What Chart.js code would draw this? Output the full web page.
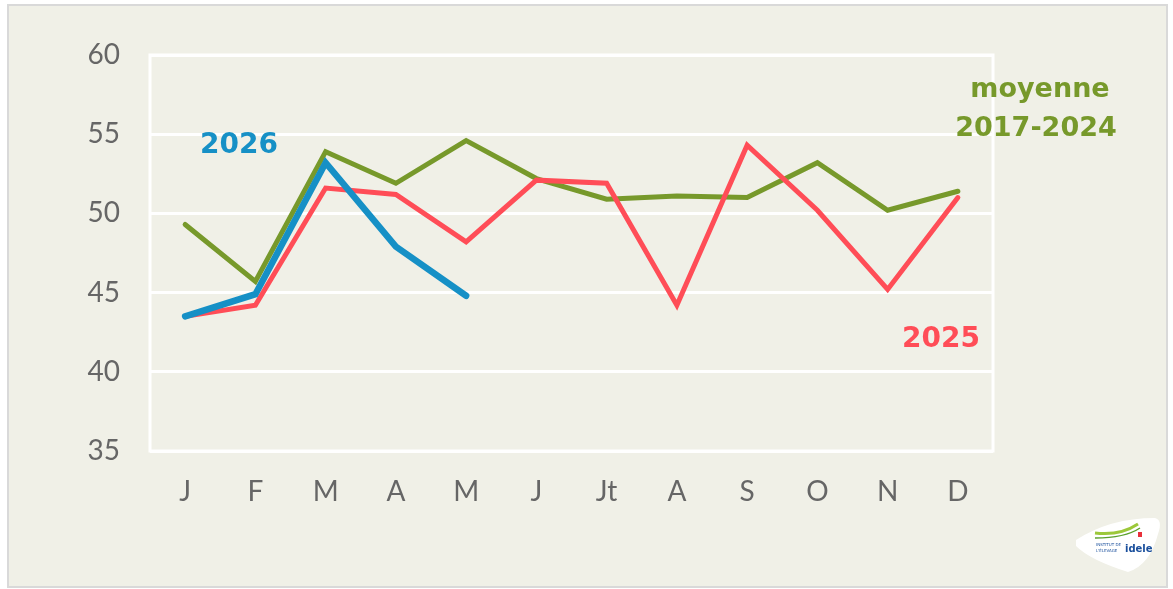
<!DOCTYPE html>
<html>
<head>
<meta charset="utf-8">
<script src="https://cdn.jsdelivr.net/npm/chart.js@4/dist/chart.umd.min.js"></script>
<style>
  html, body { margin: 0; padding: 0; background: #fff; }
  #frame {
    position: absolute; left: 7px; top: 4px; width: 1157px; height: 580px;
    background: #f0f0e7; border: 2px solid #d9d9d9;
  }
  #wrap { position: absolute; left: 0; top: 0; width: 1173px; height: 589px; }
</style>
</head>
<body>
<div id="frame"></div>
<div id="wrap"><canvas id="chart" width="1173" height="589"></canvas></div>
<script>
const months = ['J', 'F', 'M', 'A', 'M', 'J', 'Jt', 'A', 'S', 'O', 'N', 'D'];
const yTicks = [35, 40, 45, 50, 55, 60];

const avg2017_2024 = [49.3, 45.7, 53.9, 51.9, 54.6, 52.2, 50.9, 51.1, 51.0, 53.2, 50.2, 51.4];
const y2025 = [43.5, 44.2, 51.6, 51.2, 48.2, 52.1, 51.9, 44.2, 54.3, 50.2, 45.2, 51.0];
const y2026 = [43.5, 44.9, 53.2, 47.9, 44.8];

const GREEN = '#77992b';
const RED = '#ff4d57';
const BLUE = '#1690c6';

// white frame round the plot, labels, small logo
const decor = {
  id: 'decor',
  beforeDatasetsDraw(chart) {
    const { ctx, chartArea: a } = chart;
    ctx.save();
    ctx.strokeStyle = '#fff';
    ctx.lineWidth = 3;
    ctx.strokeRect(a.left, a.top, a.right - a.left, a.bottom - a.top);
    ctx.restore();
  },
  afterDraw(chart) {
    const { ctx } = chart;
    ctx.save();
    ctx.textAlign = 'center';
    ctx.textBaseline = 'middle';
    ctx.font = 'bold 28px "DejaVu Sans"';
    ctx.fillStyle = BLUE;
    ctx.fillText('2026', 239, 146);
    ctx.fillStyle = RED;
    ctx.fillText('2025', 941, 340);
    ctx.fillStyle = GREEN;
    ctx.font = 'bold 27px "DejaVu Sans"';
    ctx.fillText('moyenne', 1040, 90);
    ctx.fillText('2017-2024', 1036, 129);

    // idele logo (rough)
    ctx.fillStyle = '#fff';
    ctx.beginPath();
    ctx.moveTo(1076, 540);
    ctx.quadraticCurveTo(1110, 518, 1155, 518);
    ctx.quadraticCurveTo(1163, 520, 1158, 534);
    ctx.quadraticCurveTo(1150, 565, 1128, 572);
    ctx.quadraticCurveTo(1090, 560, 1076, 546);
    ctx.closePath();
    ctx.fill();
    ctx.strokeStyle = '#9cc83a';
    ctx.lineWidth = 3;
    ctx.beginPath();
    ctx.moveTo(1095, 533);
    ctx.quadraticCurveTo(1120, 536, 1138, 524);
    ctx.stroke();
    ctx.strokeStyle = '#5aa02c';
    ctx.lineWidth = 1.5;
    ctx.beginPath();
    ctx.moveTo(1095, 538);
    ctx.quadraticCurveTo(1125, 538, 1140, 528);
    ctx.stroke();
    ctx.fillStyle = '#e8303a';
    ctx.fillRect(1138, 532, 4, 5);
    ctx.fillStyle = '#1a4f9c';
    ctx.font = 'bold 10px "DejaVu Sans"';
    ctx.textAlign = 'left';
    ctx.fillText('idele', 1125, 549);
    ctx.font = '4px "DejaVu Sans"';
    ctx.fillText('INSTITUT DE', 1096, 545);
    ctx.fillText("L'ÉLEVAGE", 1096, 551);
    ctx.restore();
  }
};

new Chart(document.getElementById('chart'), {
  type: 'line',
  data: {
    labels: months,
    datasets: [
      { label: 'moyenne 2017-2024', data: avg2017_2024, borderColor: GREEN, borderWidth: 5, order: 3 },
      { label: '2025', data: y2025, borderColor: RED, borderWidth: 5, order: 2 },
      { label: '2026', data: y2026, borderColor: BLUE, borderWidth: 6.5, order: 1 }
    ]
  },
  options: {
    responsive: false,
    animation: false,
    elements: {
      point: { radius: 0 },
      line: { tension: 0, borderCapStyle: 'round', borderJoinStyle: 'miter', fill: false }
    },
    layout: { padding: { left: 0, top: 55, right: 180, bottom: 38 } },
    plugins: { legend: { display: false }, tooltip: { enabled: false } },
    scales: {
      x: {
        offset: true,
        grid: { display: false, drawTicks: false },
        border: { display: false },
        ticks: { color: '#666', padding: 24, font: { family: 'Lato', size: 28, weight: 'normal' } },
        afterFit: (s) => { s.height = 100; }
      },
      y: {
        min: 35, max: 60,
        afterBuildTicks: (s) => { s.ticks = yTicks.map(v => ({ value: v })); },
        grid: { color: '#fff', lineWidth: 3, drawTicks: false },
        border: { display: false },
        ticks: { color: '#666', padding: 30, font: { family: 'Lato', size: 28, weight: 'normal' } },
        afterFit: (s) => { s.width = 150; }
      }
    }
  },
  plugins: [decor]
});
</script>
</body>
</html>
